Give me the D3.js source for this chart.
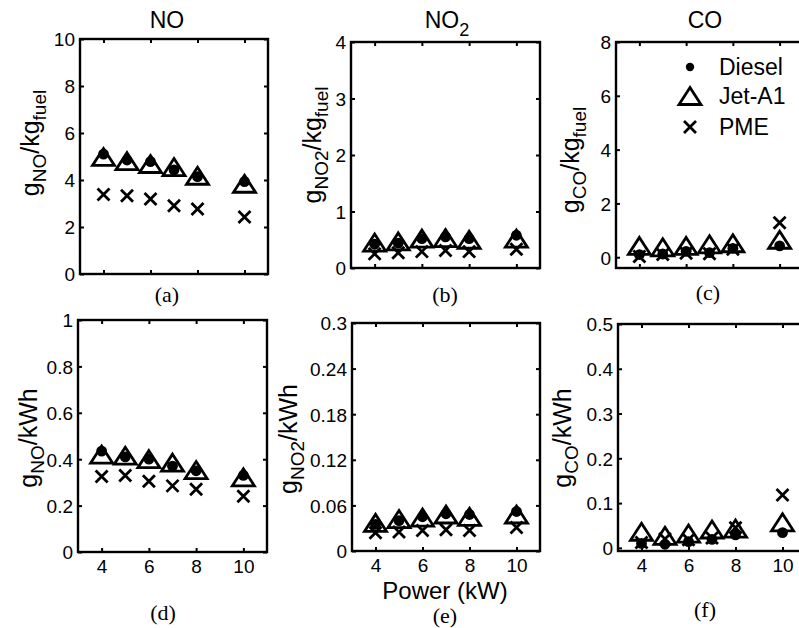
<!DOCTYPE html>
<html>
<head>
<meta charset="utf-8">
<script src="https://cdn.jsdelivr.net/npm/d3@7"></script>
<style>
  html, body { margin: 0; padding: 0; background: #fff; }
  svg { display: block; }
  text { font-family: "Liberation Sans", Arial, sans-serif; fill: #000; }
  .cap { font-family: "Liberation Serif", "Times New Roman", serif; }
</style>
</head>
<body>
<div id="chart"></div>
<script>
// x values (engine power, kW)
const power = [4, 5, 6, 7, 8, 10];
const xTicks = [4, 6, 8, 10];
const fuels = ["Diesel", "Jet-A1", "PME"];

// g/kg fuel
const noFuelDiesel = [5.1, 4.85, 4.78, 4.43, 4.14, 3.93];
const noFuelJet    = [4.98, 4.8, 4.68, 4.55, 4.18, 3.84];
const noFuelPME    = [3.38, 3.33, 3.19, 2.9, 2.77, 2.43];

const no2FuelDiesel = [0.42, 0.44, 0.52, 0.55, 0.52, 0.58];
const no2FuelJet    = [0.45, 0.47, 0.52, 0.53, 0.5, 0.52];
const no2FuelPME    = [0.25, 0.27, 0.29, 0.31, 0.29, 0.33];

const coFuelDiesel = [0.1, 0.12, 0.22, 0.17, 0.33, 0.42];
const coFuelJet    = [0.42, 0.37, 0.42, 0.48, 0.52, 0.65];
const coFuelPME    = [0.03, 0.1, 0.15, 0.13, 0.3, 1.28];

// g/kWh
const noKwhDiesel = [0.435, 0.41, 0.4, 0.37, 0.35, 0.33];
const noKwhJet    = [0.42, 0.415, 0.4, 0.385, 0.353, 0.322];
const noKwhPME    = [0.325, 0.33, 0.305, 0.285, 0.27, 0.24];

const no2KwhDiesel = [0.035, 0.04, 0.045, 0.049, 0.048, 0.052];
const no2KwhJet    = [0.037, 0.042, 0.044, 0.048, 0.045, 0.048];
const no2KwhPME    = [0.024, 0.025, 0.027, 0.028, 0.027, 0.031];

const coKwhDiesel = [0.01, 0.008, 0.014, 0.019, 0.029, 0.034];
const coKwhJet    = [0.036, 0.027, 0.032, 0.041, 0.043, 0.057];
const coKwhPME    = [0.012, 0.02, 0.018, 0.022, 0.045, 0.118];

const W = 799, H = 628;
const svg = d3.select("#chart").append("svg").attr("width", W).attr("height", H);

const triPath = "M0,-8.5L11,8.5L-11,8.5Z";
const crossPath = "M-6,-6L6,6M-6,6L6,-6";

function drawMarker(g, fuel, x, y, r) {
  if (fuel === "Diesel") {
    g.append("circle").attr("cx", x).attr("cy", y).attr("r", r || 5.4).attr("fill", "#000");
  } else if (fuel === "Jet-A1") {
    g.append("path").attr("d", triPath).attr("transform", `translate(${x},${y})`)
      .attr("fill", "none").attr("stroke", "#000").attr("stroke-width", 2.8).attr("stroke-linejoin", "miter");
  } else {
    g.append("path").attr("d", crossPath).attr("transform", `translate(${x},${y})`)
      .attr("fill", "none").attr("stroke", "#000").attr("stroke-width", 2.8);
  }
}

const panels = [
  { x0: 80, x1: 268, y0: 39, y1: 274, dom: [0, 10], ticks: [0, 2, 4, 6, 8, 10], fmt: d3.format("d"),
    series: [noFuelDiesel, noFuelJet, noFuelPME], sub: "NO", unit: "/kg", unitSub: "fuel",
    lab: [30, 143], cap: "(a)", capPos: [167, 302], title: ["NO", ""], titleX: 167, showX: false },
  { x0: 351, x1: 540, y0: 42, y1: 268, dom: [0, 4], ticks: [0, 1, 2, 3, 4], fmt: d3.format("d"),
    series: [no2FuelDiesel, no2FuelJet, no2FuelPME], sub: "NO2", unit: "/kg", unitSub: "fuel",
    lab: [312, 145], cap: "(b)", capPos: [445, 302], title: ["NO", "2"], titleX: 447, showX: false },
  { x0: 616, x1: 803, y0: 42, y1: 268, dom: [-0.4, 8], ticks: [0, 2, 4, 6, 8], fmt: d3.format("d"),
    series: [coFuelDiesel, coFuelJet, coFuelPME], sub: "CO", unit: "/kg", unitSub: "fuel",
    lab: [570, 160], cap: "(c)", capPos: [708, 300], title: ["CO", ""], titleX: 705, showX: false, legend: true },
  { x0: 78, x1: 267, y0: 320, y1: 552, dom: [0, 1], ticks: [0, 0.2, 0.4, 0.6, 0.8, 1], fmt: d => d3.format("")(d),
    series: [noKwhDiesel, noKwhJet, noKwhPME], sub: "NO", unit: "/kWh", unitSub: "",
    lab: [28, 438], cap: "(d)", capPos: [163, 620], showX: true },
  { x0: 352, x1: 540, y0: 323, y1: 551, dom: [0, 0.3], ticks: [0, 0.06, 0.12, 0.18, 0.24, 0.3], fmt: d => d3.format("")(+d.toFixed(2)),
    series: [no2KwhDiesel, no2KwhJet, no2KwhPME], sub: "NO2", unit: "/kWh", unitSub: "",
    lab: [288, 439], cap: "(e)", capPos: [445, 623], showX: true, xlabel: "Power (kW)" },
  { x0: 618, x1: 806, y0: 324, y1: 551, dom: [-0.007, 0.5], ticks: [0, 0.1, 0.2, 0.3, 0.4, 0.5], fmt: d => d3.format("")(+d.toFixed(1)),
    series: [coKwhDiesel, coKwhJet, coKwhPME], sub: "CO", unit: "/kWh", unitSub: "",
    lab: [562, 438], cap: "(f)", capPos: [705, 617], showX: true }
];

panels.forEach(p => {
  const x = d3.scaleLinear().domain([3, 11]).range([p.x0, p.x1]);
  const y = d3.scaleLinear().domain(p.dom).range([p.y1, p.y0]);
  const g = svg.append("g");

  // markers
  const mg = g.append("g");
  p.series.forEach((vals, si) => {
    vals.forEach((v, i) => drawMarker(mg, fuels[si], x(power[i]), y(v)));
  });

  // axes with inward ticks
  const ay = g.append("g").attr("transform", `translate(${p.x0},0)`)
    .call(d3.axisLeft(y).tickValues(p.ticks).tickFormat(p.fmt).tickSizeInner(-4).tickSizeOuter(0).tickPadding(5));
  g.append("g").attr("transform", `translate(${p.x1},0)`)
    .call(d3.axisRight(y).tickValues(p.ticks).tickFormat("").tickSizeInner(-4).tickSizeOuter(0));
  g.append("g").attr("transform", `translate(0,${p.y1})`)
    .call(d3.axisBottom(x).tickValues(xTicks).tickFormat(p.showX ? d3.format("d") : "").tickSizeInner(-4).tickSizeOuter(0).tickPadding(8));
  g.append("g").attr("transform", `translate(0,${p.y0})`)
    .call(d3.axisTop(x).tickValues(xTicks).tickFormat("").tickSizeInner(-4).tickSizeOuter(0));
  g.selectAll(".domain").remove();
  g.selectAll(".tick line").attr("stroke", "#000").attr("stroke-width", 2);
  g.selectAll(".tick text").style("font-family", '"Liberation Sans", Arial, sans-serif').style("font-size", "19px").attr("fill", "#000");
  ay.selectAll(".tick text").attr("dy", "0.36em");

  g.append("rect").attr("x", p.x0).attr("y", p.y0).attr("width", p.x1 - p.x0).attr("height", p.y1 - p.y0)
    .attr("fill", "none").attr("stroke", "#000").attr("stroke-width", 2.4);

  // y label
  const yl = g.append("text").attr("transform", `translate(${p.lab[0]},${p.lab[1]}) rotate(-90)`)
    .attr("text-anchor", "middle").attr("dy", "0.35em").style("font-size", "25px");
  yl.append("tspan").text("g");
  yl.append("tspan").text(p.sub).style("font-size", "19px").attr("dy", 7);
  yl.append("tspan").text(p.unit).attr("dy", -7);
  if (p.unitSub) yl.append("tspan").text(p.unitSub).style("font-size", "19px").attr("dy", 7);

  // caption
  g.append("text").attr("class", "cap").attr("x", p.capPos[0]).attr("y", p.capPos[1])
    .attr("text-anchor", "middle").style("font-size", "22px").text(p.cap);

  if (p.title) {
    const t = g.append("text").attr("x", p.titleX).attr("y", 28)
      .attr("text-anchor", "middle").style("font-size", "23px");
    t.append("tspan").text(p.title[0]);
    if (p.title[1]) t.append("tspan").text(p.title[1]).style("font-size", "18px").attr("dy", 8);
  }

  if (p.xlabel) {
    g.append("text").attr("x", 445).attr("y", 599).attr("text-anchor", "middle")
      .style("font-size", "24px").text(p.xlabel);
  }

  if (p.legend) {
    const lx = 690, ly = [67, 96, 127];
    fuels.forEach((f, i) => {
      drawMarker(g, f, lx, ly[i], 4.2);
      g.append("text").attr("x", 719).attr("y", ly[i]).attr("dy", "0.36em")
        .style("font-size", "23px").text(f);
    });
  }
});
</script>
</body>
</html>
